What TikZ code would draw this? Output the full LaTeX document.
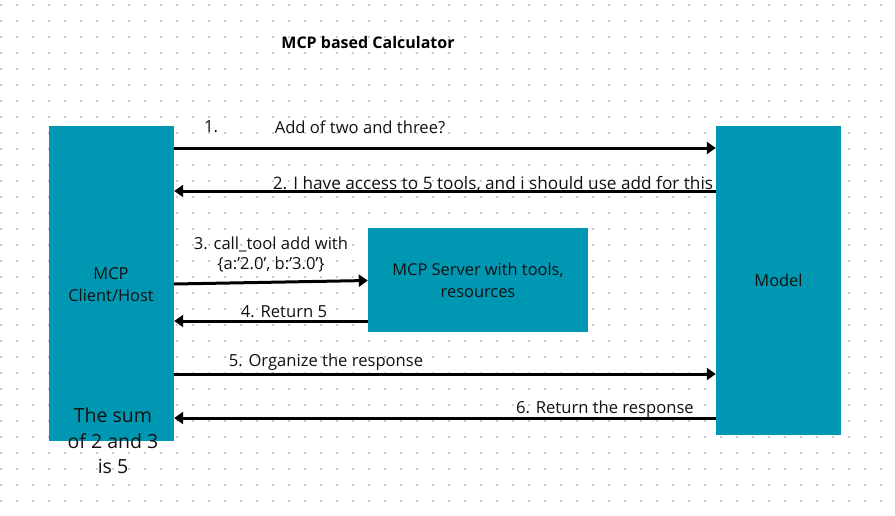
\documentclass[tikz,border=0pt]{standalone}
\usepackage{fontspec}
\setmainfont{Open Sans}
\usetikzlibrary{arrows.meta}
\definecolor{teal1}{HTML}{0097B2}
\definecolor{dotc}{HTML}{C5CBD3}
\definecolor{txt}{HTML}{111111}
\tikzset{
  box/.style={fill=teal1, draw=none, inner sep=0pt, text=txt, align=center, font=\fontsize{16.4}{22}\selectfont},
  arr/.style={line width=3pt, -{Triangle[length=9pt,width=12pt]}},
  lbl/.style={text=txt, align=center, inner sep=0pt, font=\fontsize{16.6}{20}\selectfont},
}
\begin{document}
\begin{tikzpicture}[x=1pt,y=-1pt]
\useasboundingbox (0,0) rectangle (895,515);
\fill[white] (0,0) rectangle (895,515);
\foreach \i in {0,...,55}{
  \foreach \j in {0,...,31}{
    \fill[dotc] (16*\i,16*\j+3.5) rectangle ++(2,2);
  }
}
\node[font=\bfseries\fontsize{16}{19}\selectfont, text=black, inner sep=0pt] (title) at (368,42) {MCP based Calculator};
\node[box, minimum width=125pt, minimum height=315pt] (client) at (111.5,283.5) {};
\node[box, minimum width=125pt, minimum height=309pt] (model) at (778.5,280.5) {Model};
\node[box, minimum width=220pt, minimum height=104pt] (server) at (478,280) {MCP Server with tools,\\resources};
\node[lbl, font=\fontsize{16.4}{22}\selectfont] (ctext) at (111,285) {MCP\\Client/Host};
\node[lbl, font=\fontsize{19.5}{25.5}\selectfont] (sum) at (113,441) {The sum\\of 2 and 3\\is 5};

\draw[arr] (client.east|-0,148) -- (model.west|-0,148);
\node[lbl] (l1a) at (211,127) {1.};
\node[lbl] (l1b) at (360,127) {Add of two and three?};

\draw[arr] (model.west|-0,191) -- (client.east|-0,191);
\node[lbl, font=\fontsize{17.2}{20}\selectfont] (l2) at (493,184) {2. I have access to 5 tools, and i should use add for this};

\draw[arr] (client.east|-0,284) -- (server.west|-0,280.5);
\node[lbl] (l3) at (271,255) {3. call\_tool add with\\\{a:’2.0’, b:’3.0’\}};

\draw[arr] (server.west|-0,321) -- (client.east|-0,321);
\node[lbl] (l4) at (284,312) {4. Return 5};

\draw[arr] (client.east|-0,374) -- (model.west|-0,374);
\node[lbl] (l5) at (326,362) {5. Organize the response};

\draw[arr] (model.west|-0,418) -- (client.east|-0,418);
\node[lbl] (l6) at (605,409) {6. Return the response};
\end{tikzpicture}
\end{document}
